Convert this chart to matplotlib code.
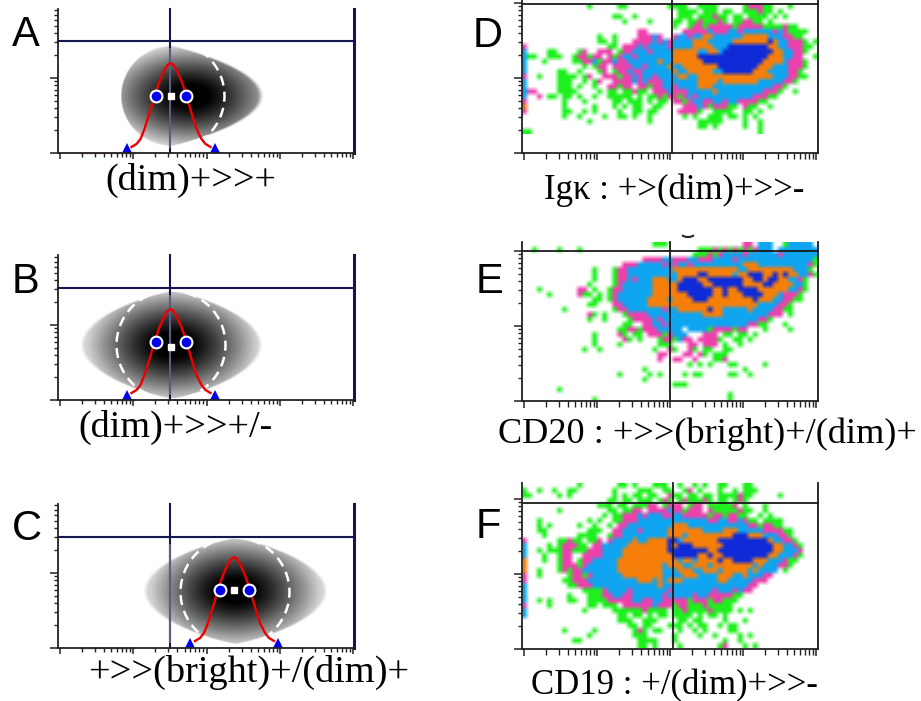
import numpy as np
import matplotlib
matplotlib.use('Agg')
import matplotlib.pyplot as plt
import matplotlib.patches as patches
from matplotlib.ticker import LogLocator, NullFormatter

# red histogram outline, offsets from the peak position in px
curve_dx = [-39, -34, -30, -26, -21, -16, -11, -6, -3, 0, 3, 6, 11, 16, 21, 26, 31, 35, 40]
curve_dy = [84, 81, 76, 66, 50, 33, 18, 7, 2, 0, 2, 7, 18, 33, 50, 66, 76, 81, 84]

# schematic panels: peak x, peak y, circle y, triangle y, circle half gap
peak_x = [170.5, 170.5, 234]
peak_y = [63, 309, 557]
circle_y = [96, 342, 590]
square_y = [96, 347, 590]
tri_y = [147.5, 395, 642.5]
circle_gap = [15, 15, 14.5]
tri_gap = [44, 44, 44]

# gradient blobs: dark x, dark y, shape x, left r, right r, vert r, left p, right p
blob_dark_x = [190, 172, 235]
blob_dark_y = [96, 345, 591]
blob_shape_x = [172, 172, 235]
blob_left = [52, 92, 92]
blob_right = [91, 90, 92]
blob_vert = [51, 55, 54]
blob_p_left = [2.0, 1.2, 1.2]
blob_p_right = [1.05, 1.2, 1.2]
ring_x = [170, 171, 235]
ring_y = [96, 345, 592]

# density plots, one char per 5 px cell, | only marks every ten cells:
# g green, p pink, b blue, o orange, n navy
grid_d = [
"          |   g     g|g        gg|gg  gggg  |   gpppgg |  g       ",
"          |          |          | gggg ggg |gg  gggpgg| g        ",
"          |        gg|  g       | ggg gggpg|g gg gggg |g g       ",
"          |          |g    g    |gg ggpgggp|g ggppgg g|          ",
"          |          |          |g  gppgppp|ppgpppppgg|ggpgg     ",
"          |          |   pp     |  pppppbpp|pbbpbbbbbb|pbpgggg   ",
"          |     g  g |   pppbp  |pbbpbboobb|bbbbooooob|bbppgg    ",
"          |     gg g |  ppppbpbp|bbbbooobbb|bbooooooon|obbpppg g ",
"p         |       gg |pppbpbbbbp|bbbboooobb|bnnnnnnnno|obbpppgg  ",
"b    gg   | gp  ppp g|ppbbbpbbbb|ooooobboob|nnnnnnnnnn|oobbppg   ",
"bgg  ggg  |gppgpp pgp|bbpbbbbbbb|ooooonnnnn|nnnnnnnnno|oobbpp  g ",
"b   g     |ggppbgppbp|pbbbbbbobb|oooooonnnn|nnnnnnnnoo|oobpppg   ",
"b         |  g gpp pp|ppbbpbbbbo|bbooooooon|nnnnnnnooo|bbbpppg   ",
"b      gg | g   gp gp|pbppbbbbbb|obbooooobb|nnnnnnooob|bbbppg    ",
"p  g   ggg|g gp  pppg|ppbpbbpbbb|boobbooooo|oooooooooo|bbbppgg   ",
"b      ggg|  g gp  pp|ppbpbpppbb|bbbbboooob|ooooooobbb|bbppg     ",
"b      ggg| g  g  ppg|pp ppgppbb|pbbbbooobb|bbbbbbbbbb|ppg       ",
"bpp    ggg|g    g gg |ggpgg pppb|pppbbbbbob|bbbbbbbbpp|pg  g     ",
"b  p gg gg| g  g  ggg|gg g ggpgp|pgpbpbbbbb|bbbbbbpppg|g         ",
"p       g |  g     gg| ggg g gg |ppgpbbppbb|pbbppppgg |          ",
"o       g |    g   g |g gg  gg  |  pppbpgpp|pgg pgg  g|          ",
"p       gg|  g g    g|  gg gg   | ppppg  gg|gg  gg g  |          ",
"        g | g    g  g|g g  g    |  g g  ggg| gg g g   |          ",
"          |   g      |     g    |     ggggg|    g  g  |          ",
"          |          |          |     gg g |    g  g  |          ",
"gg        |          |          |          |       g  |          ",
]
grid_e = [
"          |          |      ggg |          |    pp bbb|  gbbbbb  ",
"  g    g  | g        |          |     gggpg|pgpgpgpbbb| bbbbbbbb ",
"          |          |          |    gggpgp|bbbbpbbbbb|bpbbbbbbb ",
"          |          |    ppppbb|pppbbpppbb|bbpbbbbbbb|bbbbbbbbg ",
"          |          |pppbbbbbpb|pbbpbbbbbb|bbbbooobbb|bbbbbbbpg ",
"          |    g   gp|pbbbbbbbbb|oooooooooo|ooobbooooo|oooobbbg  ",
"          |    g   gp|pbbbbbbbbb|boooonnooo|ooboonnnoo|nonoobbpg ",
"          |    g   gp|pbpbbbooob|bonnnoonnn|nnnnoonnon|noobbpg   ",
"          |   g    gp|bbbbbboooo|onnnnnoonn|nnnnoooonn|oooobbg   ",
"   g      | pp g  gpp|bbbbbboooo|onnnnnnnoo|noonnnnooo|ooobbpg   ",
"     g    | pgg g gpb|bbbbbboooo|ooonnnnnoo|nooonnnnoo|obpppg    ",
"          |    gg gpb|bbbbboooob|oooonnnooo|oooooonooo|bbppgg    ",
"          |   gg   pp|bbbbbooooo|oooooooooo|ooooooobbb|bppg      ",
"        g |        gp|pbbbbbbbpb|boooooonoo|bbbbbobbbb|ppgg      ",
"          |   pg g   |gppppbbbbb|bbbbbboooo|bbbbbbbbbp|pp g      ",
"          |   g  g   | gppppbpbb|bbbbbbbbbb|bbbbbbbppg|          ",
"          |          |gg  ppbbpb|bbbbbbbbbb|bbbbbppgg |  g       ",
"          |         g|gppgpppbbb|bb bbbbgpp|ppgpp   g |   g      ",
"          |    g    p|g gg pppgp|bbb   ppp |gg gg g   |          ",
"          |    g     |pg g   gpp|gbpp ppppg|  gg g    |          ",
"          |    g    g|       ggg|   pp ppp |g  g      |          ",
"          |  g  g    |      g  p|g  pg gg  |gg        |          ",
"          |          |       pp |  pp pg gg|g         |          ",
"          |          |       p  |pp  p   gg|p         |          ",
"          |          |          |   g g g  | gg     g |          ",
"          |          |    g     |          |    g     |          ",
"          |         g|     g g  |  g gg    | gg  g    |          ",
"          |          |    g     |          |          |          ",
"          |          |          |ggg       |          |          ",
"       g  |          |          |          |          |          ",
"          |          |          |          | g        |          ",
"          |    g     |          |          | g        |          ",
]
grid_f = [
"          | g       gg| g   ggg  |g  g g  gg|   gg     |          ",
"g  g  g  g|g       g |   ggg  gg|  gp g   g|  g ggg   |          ",
"gg     g g|        g |g gg gg  p|gg gg gg g|gggpgg    | g        ",
"          |       gg |gg ggg gpg| gpgggpg g|g gpg     |          ",
"          |     ggg g|g gggpp gp|pp gpp ggg|ggp g   g |          ",
"       g  |       gg |ggpp ppppb|ppgppp pgg|gggpgg  g |          ",
"          |      g gg|pppbpbbbpp|bbpppppgpp|gppgg  g g|          ",
"   g      |   g g  gg|pppbbbbbbb|bbbbbbbppb|bppbpgg gg|gg        ",
"   g g    | g  g  g p|pbbbbbbbbb|ooobbbbbbb|bbbbbppgpp|gg        ",
"   gg     |   ggg  pp|bbbpbbbbbo|oooooobbbb|ooobbbbbpp|ppgg      ",
"    g     | gggg  gpp|bbbbbbbbbo|oobooooooo|oonnnooobb|bppg      ",
"p      ggp|gg ggp pbb|bbobboooon|nbooooooon|nnnnnnnnno|bbppg     ",
"b    g gpp|pgg ppbbbb|boooooooon|onnnoooooo|nnnnnnnnnn|oobbpg    ",
"b  g gggpp|gggpppbbbb|ooooooooon|nnnnnnnoon|nnnnnnnnnn|oobbbp    ",
"b   g  gpp|  ppppbbbb|oooooooooo|nnnnnoonoo|nnnnnnnnno|obbbpg    ",
"o   g  gpp| gppbbbbbo|oooooooooo|obooboooon|oonnnnooob|bbpgg     ",
"o      gpp|pgpbbbbbbo|oooooooobo|oobboooboo|oooooobobb|bppg      ",
"o  g   gpg|ppbbbbbbbo|oooooooobb|booobbooob|ooooobobbb|b g       ",
"p  g     g|ppgpbbbbbb|oooooooobb|bbooobbbbo|oobbobbbpp|          ",
"p       gg|pppbbbbbbb|bbbooobobo|oobbbbbbbo|obbbbbppp |          ",
"b        g|gpppbbbbbb|bbbbbbbobb|bbbbbbbbbb|bbbbbpp   |          ",
"b         |  ggggpbbb|bpbbbbbbbp|bbbbbbbbpb|bbpbpp    |          ",
"b        g|   gggppbb|ppbbbbbbpb|bbbbpbbppp|ppgg      |          ",
"b  g g   g|g  ggggppp|ppbbppbbpp|pppgpppgpp|ggg       |          ",
"p    g    |   gg ggg |ppppppbppp|gppgggpggg|gg        |          ",
"b         |  g     gg|ggggpgggg |ggpggggpgg|gg g g    |          ",
"b         |         g|g gg g gg |gggg g gg |g         |          ",
"          |         g|gg  ggg   | gg gg    |g   g     |          ",
"          |          | gg gg   g|gg g gg  g| gg       |          ",
"        g |    g     |  gpg gg  | g  g g   | gg       |          ",
"          |   g      |  ggg     |g    g  g |   g g    |          ",
"          |gg        |   gggg   |g         |g  g      |          ",
"          |          |   gg g   | g       g|p   g g   |          ",
]
level_colors = {' ': '#ffffff', 'g': '#1df01d', 'p': '#ee40ad', 'b': '#0fa5f0',
                'o': '#f67f0a', 'n': '#0f2bd8'}

# panel letters and captions
letters = ['A', 'B', 'C', 'D', 'E', 'F']
letter_x = [12, 12, 12, 473, 476, 476]
letter_y = [46, 293, 540, 47, 293, 538]
captions = ['(dim)+>>+', '(dim)+>>+/-', '+>>(bright)+/(dim)+',
            'Igκ : +>(dim)+>>-', 'CD20 : +>>(bright)+/(dim)+', 'CD19 : +/(dim)+>>-']
caption_x = [105, 78, 88, 544, 498, 531]
caption_y = [190, 437, 682, 199, 443, 694]
caption_size = [27.5, 27.5, 27.6, 25, 26.1, 25]

# axes frames in px: left, right, top, bottom, gate x, gate y, y decade spacing
left_px = [58, 58, 58, 522, 522, 522]
right_px = [354, 354, 354, 818, 818, 818]
top_px = [9, 255, 504, 0, 242, 483]
bottom_px = [153, 400, 648, 153, 401, 649]
gate_x = [170, 170, 170, 672, 670, 673]
gate_y = [41, 288, 537, 4, 251, 503]
decade_y = [75, 75, 75, 75, 75, 75]
first_tick = [60, 60, 60, 524, 524, 524]
decade_x = [73.3, 73.3, 73.3, 73, 73, 73]

fig = plt.figure(figsize=(9.21, 7.01), dpi=100)
ax = fig.add_axes([0, 0, 1, 1])
ax.axis('off')


def draw_blob(i):
    x = np.arange(0, 921, 1.0)
    y = np.arange(0, 701, 1.0)
    xx, yy = np.meshgrid(x, y)
    dx = xx - blob_shape_x[i]
    rx = np.where(dx < 0, blob_left[i], blob_right[i])
    px = np.where(dx < 0, blob_p_left[i], blob_p_right[i])
    d = (np.abs(dx) / rx) ** px + ((yy - blob_dark_y[i]) / blob_vert[i]) ** 2
    s = np.hypot((xx - blob_dark_x[i]) / 85.0, (yy - blob_dark_y[i]) / blob_vert[i])
    shade = 0.82 * np.clip((s - 0.2) / 0.8, 0, 1) ** 1.25
    grey = 1 - (1 - shade) * np.clip((1 - d) / 0.06, 0, 1)
    ix = (x > left_px[i]) & (x < right_px[i])
    iy = (y > top_px[i]) & (y < bottom_px[i])
    img = grey[np.ix_(iy, ix)]
    ax.imshow(img, cmap='gray', vmin=0, vmax=1, aspect='auto', zorder=1,
              extent=(x[ix][0], x[ix][-1], y[iy][-1], y[iy][0]), interpolation='bilinear')


def draw_schematic(i):
    draw_blob(i)
    navy = '#15154f'
    ring = patches.Circle((ring_x[i], ring_y[i]), 54.5, fill=False, ec='white', lw=1.8,
                          ls=(0, (4, 2.5)), zorder=1.5)
    ax.add_patch(ring)
    ax.plot([gate_x[i]] * 2, [top_px[i], bottom_px[i]], color=navy, lw=1.5, zorder=2)
    ax.plot([gate_x[i]] * 2, [gate_y[i] + 8, bottom_px[i] - 6], color='#5a5e80', lw=1.5, zorder=2)
    ax.plot([left_px[i], right_px[i]], [gate_y[i]] * 2, color=navy, lw=1.5, zorder=2)
    ax.plot([right_px[i] - 0.5] * 2, [top_px[i], bottom_px[i]], color=navy, lw=2.2, zorder=2)
    ax.plot([80, 135], [bottom_px[i] - 0.5] * 2, color='#a8604a', lw=1.0, zorder=5, alpha=0.7)
    ax.plot(peak_x[i] + np.array(curve_dx), peak_y[i] + np.array(curve_dy), color='#ee0000',
            lw=1.7, zorder=4)
    ax.plot([peak_x[i] - circle_gap[i], peak_x[i] + circle_gap[i]], [circle_y[i]] * 2, 'o',
            color='#0000ee', mec='white', mew=1.5, ms=8.5, zorder=5)
    ax.plot([peak_x[i]], [square_y[i]], 's', color='white', ms=5, zorder=5)
    ax.plot([peak_x[i] - tri_gap[i], peak_x[i] + tri_gap[i]], [tri_y[i]] * 2, '^',
            color='#0000ee', ms=7, mew=0, zorder=5)


def draw_density(i, rows):
    ncol = 59
    rows = [row.replace('|', '') for row in rows]
    rgb = np.ones((len(rows), ncol, 3))
    for r, row in enumerate(rows):
        for c, ch in enumerate(row[:ncol]):
            rgb[r, c] = matplotlib.colors.to_rgb(level_colors[ch])
    l = left_px[i]
    t = gate_y[i] if i == 3 else top_px[i]
    ax.imshow(rgb, aspect='auto', interpolation='bilinear', zorder=1,
              extent=(l, l + ncol * 5, t + len(rows) * 5, t))
    ax.plot([gate_x[i]] * 2, [top_px[i], bottom_px[i]], color='#1a1a1a', lw=1.3, zorder=2)
    ax.plot([left_px[i], right_px[i]], [gate_y[i]] * 2, color='#1a1a1a', lw=1.3, zorder=2)
    ax.plot([right_px[i]] * 2, [top_px[i], bottom_px[i]], color='#1a1a1a', lw=1.3, zorder=2)


def add_tick_axes(i):
    l, r, t, b = left_px[i], right_px[i], top_px[i], bottom_px[i]
    a = fig.add_axes([l / 921, 1 - b / 701, (r - l) / 921, (b - t) / 701], facecolor='none', zorder=3)
    a.set_xscale('log')
    a.set_yscale('log')
    a.set_xlim(10 ** ((l - first_tick[i]) / decade_x[i]), 10 ** ((r - first_tick[i]) / decade_x[i]))
    a.set_ylim(1, 10 ** ((b - t) / decade_y[i]))
    for axis in (a.xaxis, a.yaxis):
        axis.set_major_locator(LogLocator(base=10, numticks=8))
        axis.set_minor_locator(LogLocator(base=10, subs=np.arange(2, 10) * 0.1, numticks=8))
        axis.set_major_formatter(NullFormatter())
        axis.set_minor_formatter(NullFormatter())
    a.spines['top'].set_visible(False)
    a.spines['right'].set_visible(False)
    for side in ('left', 'bottom'):
        a.spines[side].set_linewidth(1.3)
        a.spines[side].set_color('#222222')
    xlen = 4 if i < 3 else 5
    a.tick_params(axis='x', which='major', length=xlen, width=1.1, color='#222222')
    a.tick_params(axis='x', which='minor', length=xlen - 1, width=1.0, color='#222222')
    a.tick_params(axis='y', which='major', length=6, width=1.1, color='#222222')
    a.tick_params(axis='y', which='minor', length=3, width=1.0, color='#222222')


for i in range(3):
    draw_schematic(i)
for i, rows in zip([3, 4, 5], [grid_d, grid_e, grid_f]):
    draw_density(i, rows)

# small mark above panel E
ax.add_patch(patches.Arc((688, 233), 14, 8, theta1=20, theta2=160, color='#222222', lw=1.5, zorder=3))

ax.set_xlim(0, 921)
ax.set_ylim(701, 0)

for i in range(6):
    add_tick_axes(i)

for i in range(6):
    ax.text(letter_x[i], letter_y[i], letters[i], family='Liberation Sans', fontsize=30,
            color='black', ha='left', va='baseline', zorder=6)
    ax.text(caption_x[i], caption_y[i], captions[i], family='Liberation Serif',
            fontsize=caption_size[i], color='black', ha='left', va='baseline', zorder=6)

fig.savefig('out.png', dpi=100)
